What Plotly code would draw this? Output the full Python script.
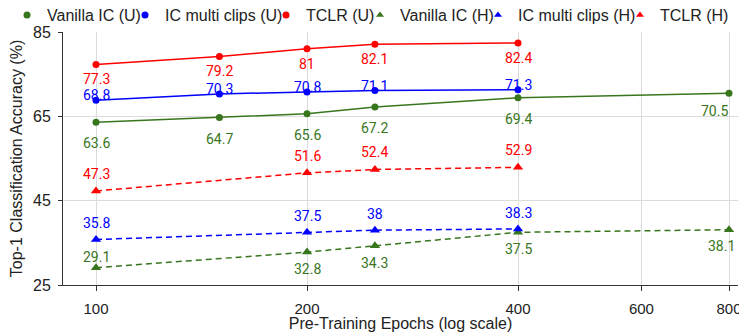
import math
import plotly.graph_objects as go

# pre-training epochs
epochs_u = [100, 150, 200, 250, 400]
epochs_vanilla_u = [100, 150, 200, 250, 400, 800]
epochs_h = [100, 200, 250, 400]
epochs_vanilla_h = [100, 200, 250, 400, 800]

# top-1 accuracy, UCF101 (U) and HMDB51 (H)
vanilla_u = [63.6, 64.7, 65.6, 67.2, 69.4, 70.5]
multiclip_u = [68.8, 70.3, 70.8, 71.1, 71.3]
tclr_u = [77.3, 79.2, 81, 82.1, 82.4]
vanilla_h = [29.1, 32.8, 34.3, 37.5, 38.1]
multiclip_h = [35.8, 37.5, 38, 38.3]
tclr_h = [47.3, 51.6, 52.4, 52.9]

x_ticks = [100, 200, 400, 600, 800]
y_ticks = [25, 45, 65, 85]

GREEN = "#38761d"
BLUE = "#0000ff"
RED = "#ff0000"

LABEL_FONT = "Roboto"
AXIS_FONT = "Liberation Sans, Arial, sans-serif"

# the page has an 8px body margin, so the figure is drawn 8px smaller
W, H = 739, 324
L, R, T, B = 55, 9, 24, 47
PW = W - L - R

fig = go.Figure()
annotations = []

def add_series(name, xs, ys, color, dashed, shifts, legend):
    sym = "triangle-up" if dashed else "circle"
    fig.add_trace(go.Scatter(
        x=xs, y=ys, mode="lines+markers", name=name,
        line=dict(color=color, width=1.5, dash="6px,4px" if dashed else "solid"),
        marker=dict(color=color, size=9 if dashed else 7, symbol=sym),
        showlegend=False, cliponaxis=False))
    # legend entry shows the marker only
    fig.add_trace(go.Scatter(
        x=[None], y=[None], mode="markers", name=name, legend=legend,
        marker=dict(color=color, size=7, symbol=sym)))
    for x, y, (dx, dy) in zip(xs, ys, shifts):
        annotations.append(dict(
            x=math.log10(x), y=y, text=str(y), showarrow=False,
            xshift=dx, yshift=dy,
            font=dict(family=LABEL_FONT, size=14, color=color)))

add_series("Vanilla IC (U)", epochs_vanilla_u, vanilla_u, GREEN, False,
           [(0, -21)] * 5 + [(-15, -18)], "legend")
add_series("IC multi clips (U)", epochs_u, multiclip_u, BLUE, False,
           [(0, 5)] * 5, "legend2")
add_series("TCLR (U)", epochs_u, tclr_u, RED, False,
           [(0, -15)] * 5, "legend3")
add_series("Vanilla IC (H)", epochs_vanilla_h, vanilla_h, GREEN, True,
           [(0, 11)] + [(0, -17)] * 3 + [(-8, -16)], "legend4")
add_series("IC multi clips (H)", epochs_h, multiclip_h, BLUE, True,
           [(0, 16)] * 4, "legend5")
add_series("TCLR (H)", epochs_h, tclr_h, RED, True,
           [(0, 17)] * 4, "legend6")

# one small legend per entry so they can sit tightly in a row
legend_px = [-1, 117, 258, 352, 470, 612]
legends = {}
for i, px in enumerate(legend_px):
    key = "legend" if i == 0 else "legend%d" % (i + 1)
    legends[key] = dict(
        x=(px - L) / PW, xanchor="left", y=1 + 17 / 253, yanchor="middle",
        orientation="h", bgcolor="rgba(0,0,0,0)",
        font=dict(family=AXIS_FONT, size=16, color="#222"),
        itemwidth=30, tracegroupgap=0)

fig.update_layout(
    width=W, height=H,
    margin=dict(l=L, r=R, t=T, b=B, autoexpand=False),
    plot_bgcolor="white", paper_bgcolor="white",
    font=dict(family=AXIS_FONT, size=15, color="#222"),
    annotations=annotations,
    **legends,
)

fig.update_xaxes(
    type="log", range=[math.log10(100) - 33 / 701, math.log10(800) + 9 / 701],
    tickvals=x_ticks, ticktext=[str(t) for t in x_ticks],
    showgrid=True, gridcolor="#dcdcdc", gridwidth=1,
    showline=True, linecolor="#333", linewidth=1,
    ticks="outside", ticklen=5, tickcolor="#333", ticklabelstandoff=5,
    tickfont=dict(family=AXIS_FONT, size=15, color="#222"),
    title=dict(text="Pre-Training Epochs (log scale)", standoff=1,
               font=dict(family=AXIS_FONT, size=16, color="#222")),
    automargin=False, zeroline=False)

fig.update_yaxes(
    range=[25, 85], tickvals=y_ticks,
    showgrid=True, gridcolor="#dcdcdc", gridwidth=1,
    showline=True, linecolor="#333", linewidth=1,
    ticks="outside", ticklen=4, tickcolor="#333", ticklabelstandoff=4,
    tickfont=dict(family=AXIS_FONT, size=16, color="#222"),
    title=dict(text="Top-1 Classification Accuracy (%)", standoff=8,
               font=dict(family=AXIS_FONT, size=16, color="#222")),
    automargin=False, zeroline=False)

fig.write_html("out.html")
